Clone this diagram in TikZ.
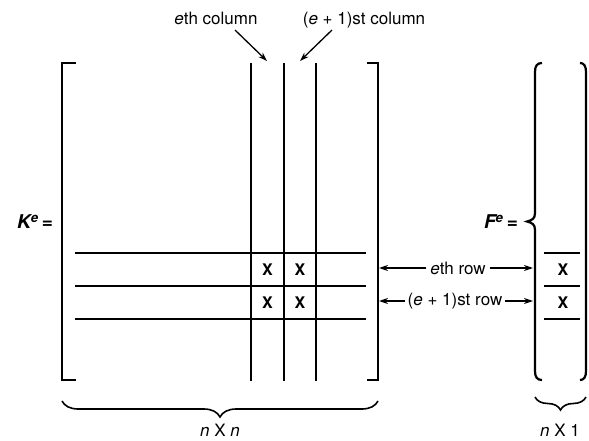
\documentclass[tikz,border=0pt]{standalone}
\usepackage{fontspec}
\setmainfont{TeX Gyre Heros}
\usetikzlibrary{
arrows.meta,
positioning,
calc,
decorations.pathreplacing
}

\begin{document}
\begin{tikzpicture}[x=1pt, y=-1pt, line width=1.4pt,
    font=\fontsize{17}{19}\selectfont,
    bracket line/.style={line width=2.2pt},
    pointer/.style={-{Stealth[length=9pt,width=6pt]}, line width=1.3pt},
    entry/.style={font=\fontsize{16}{18}\selectfont\bfseries, inner sep=0pt},
    underbrace/.style={decorate, decoration={brace, mirror, amplitude=#1}, line width=1.6pt}]

    \useasboundingbox (0,0) rectangle (589,441);

    % ==================== ELEMENT MATRIX K ====================
    % Square brackets
    \draw[bracket line] (76,63) -- (62,63) -- (62,380) -- (76,380);
    \draw[bracket line] (367,63) -- (378,63) -- (378,380) -- (367,380);

    % Columns e and e+1
    \foreach \cx in {251,284,316}
        \draw (\cx,63) -- (\cx,381);

    % Rows e and e+1
    \foreach \ry in {253,286,319}
        \draw (75,\ry) -- (366,\ry);

    % Nonzero entries
    \node[entry] (k11) at (267.5,270) {X};
    \node[entry] (k12) at (300,270) {X};
    \node[entry] (k21) at (267.5,302.5) {X};
    \node[entry] (k22) at (300,302.5) {X};

    % Matrix name
    \node[inner sep=0pt] (Kname) at (35,222) {\fontsize{19}{21}\selectfont\bfseries\itshape K\textsuperscript{e}\,\upshape =};


    % ==================== ELEMENT VECTOR F ====================
    % Left brace
    \draw[bracket line] (542,63) .. controls (537,63) and (535,66) .. (535,72)
        -- (535,213) .. controls (535,219) and (532,220) .. (527,221.5)
        .. controls (532,223) and (535,224) .. (535,230)
        -- (535,371) .. controls (535,377) and (537,380) .. (542,380);
    % Right bracket
    \draw[bracket line] (580,63) .. controls (584,63) and (586,66) .. (586,72)
        -- (586,371) .. controls (586,377) and (584,380) .. (580,380);

    % Rows e and e+1
    \foreach \ry in {253,286,319}
        \draw (544,\ry) -- (580,\ry);

    % Nonzero entries
    \node[entry] (f1) at (563,270) {X};
    \node[entry] (f2) at (563,302.5) {X};

    % Vector name
    \node[inner sep=0pt] (Fname) at (501,222) {\fontsize{19}{21}\selectfont\bfseries\itshape F\textsuperscript{e}\,\upshape =};


    % ==================== COLUMN LABELS ====================
    \coordinate (ecol) at (267,61);
    \coordinate (e1col) at (300,61);
    \node[anchor=base] (ecolLbl) at (216,25) {\textit{e}th column};
    \node[anchor=base] (e1colLbl) at (364,25) {(\textit{e} + 1)st column};
    \draw[pointer] ([xshift=19pt, yshift=-5pt]ecolLbl.base) -- (ecol);
    \draw[pointer] ([xshift=-32pt, yshift=-5pt]e1colLbl.base) -- (e1col);


    % ==================== ROW LABELS ====================
    \coordinate (erowL) at (379,268);
    \coordinate (erowR) at (533,268);
    \coordinate (e1rowL) at (379,301);
    \coordinate (e1rowR) at (533,301);
    \node (erowLbl) at (458,268) {\textit{e}th row};
    \node[inner sep=2pt] (e1rowLbl) at (455,301) {(\textit{e} + 1)st row};
    \draw[pointer] (erowLbl.west) -- (erowL);
    \draw[pointer] (erowLbl.east) -- (erowR);
    \draw[pointer] (e1rowLbl.west) -- (e1rowL);
    \draw[pointer] (e1rowLbl.east) -- (e1rowR);


    % ==================== SIZE BRACES ====================
    \coordinate (Kbl) at (62,401);
    \coordinate (Kbr) at (378,401);
    \coordinate (Fbl) at (535,397);
    \coordinate (Fbr) at (586,397);
    \draw[underbrace=16pt] (Kbl) -- (Kbr);
    \draw[underbrace=13pt] (Fbl) -- (Fbr);
    \node (Ksize) at (220,430) {\textit{n} X \textit{n}};
    \node (Fsize) at (560,430) {\textit{n} X 1};

\end{tikzpicture}
\end{document}
